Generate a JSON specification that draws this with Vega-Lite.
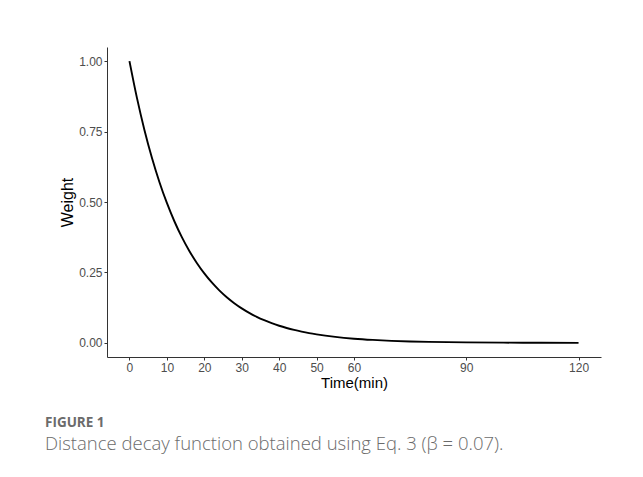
{
  "$schema": "https://vega.github.io/schema/vega-lite/v6.json",
  "width": 494,
  "height": 310,
  "autosize": {"type": "none"},
  "padding": {"left": 107, "top": 47, "right": 42, "bottom": 120},
  "background": "white",
  "title": {
    "text": "FIGURE 1",
    "subtitle": "Distance decay function obtained using Eq. 3 (β = 0.07).",
    "orient": "bottom",
    "anchor": "start",
    "frame": "group",
    "dx": -62,
    "offset": 26,
    "font": "Open Sans",
    "fontSize": 13.5,
    "fontWeight": "bold",
    "color": "#6b6b6b",
    "subtitleFont": "Open Sans",
    "subtitleFontSize": 18.5,
    "subtitleFontWeight": 300,
    "subtitleColor": "#6b6b6b",
    "subtitlePadding": 5
  },
  "data": {
    "values": [
      {"time": 0, "weight": 1.0},
      {"time": 2, "weight": 0.8694},
      {"time": 4, "weight": 0.7558},
      {"time": 6, "weight": 0.657},
      {"time": 8, "weight": 0.5712},
      {"time": 10, "weight": 0.4966},
      {"time": 12, "weight": 0.4317},
      {"time": 14, "weight": 0.3753},
      {"time": 16, "weight": 0.3263},
      {"time": 18, "weight": 0.2837},
      {"time": 20, "weight": 0.2466},
      {"time": 22, "weight": 0.2144},
      {"time": 24, "weight": 0.1864},
      {"time": 26, "weight": 0.162},
      {"time": 28, "weight": 0.1409},
      {"time": 30, "weight": 0.1225},
      {"time": 32, "weight": 0.1065},
      {"time": 34, "weight": 0.0926},
      {"time": 36, "weight": 0.0805},
      {"time": 38, "weight": 0.0699},
      {"time": 40, "weight": 0.0608},
      {"time": 42, "weight": 0.0529},
      {"time": 44, "weight": 0.046},
      {"time": 46, "weight": 0.04},
      {"time": 48, "weight": 0.0347},
      {"time": 50, "weight": 0.0302},
      {"time": 55, "weight": 0.0213},
      {"time": 60, "weight": 0.015},
      {"time": 65, "weight": 0.0106},
      {"time": 70, "weight": 0.0074},
      {"time": 75, "weight": 0.0052},
      {"time": 80, "weight": 0.0037},
      {"time": 90, "weight": 0.0018},
      {"time": 100, "weight": 0.0009},
      {"time": 110, "weight": 0.0005},
      {"time": 120, "weight": 0.0002}
    ]
  },
  "mark": {"type": "line", "color": "black", "strokeWidth": 1.9, "interpolate": "monotone", "clip": false},
  "encoding": {
    "x": {
      "field": "time",
      "type": "quantitative",
      "scale": {"domain": [-6, 126], "nice": false, "zero": false},
      "axis": {
        "title": "Time(min)",
        "values": [0, 10, 20, 30, 40, 50, 60, 90, 120],
        "grid": false,
        "domainColor": "#333333",
        "domainWidth": 1,
        "tickColor": "#333333",
        "tickSize": 3,
        "labelFont": "Liberation Sans",
        "labelFontSize": 12,
        "labelColor": "#4d4d4d",
        "labelPadding": 2,
        "labelFlush": false,
        "titleFont": "Liberation Sans",
        "titleFontSize": 15,
        "titleFontWeight": "normal",
        "titleColor": "black",
        "titlePadding": 2
      }
    },
    "y": {
      "field": "weight",
      "type": "quantitative",
      "scale": {"domain": [-0.05, 1.05], "nice": false, "zero": false},
      "axis": {
        "title": "Weight",
        "values": [0, 0.25, 0.5, 0.75, 1],
        "format": ".2f",
        "grid": false,
        "domainColor": "#333333",
        "domainWidth": 1,
        "tickColor": "#333333",
        "tickSize": 3,
        "labelFont": "Liberation Sans",
        "labelFontSize": 12,
        "labelColor": "#4d4d4d",
        "labelPadding": 2,
        "labelFlush": false,
        "titleFont": "Liberation Sans",
        "titleFontSize": 16,
        "titleFontWeight": "normal",
        "titleColor": "black",
        "titlePadding": 3
      }
    }
  },
  "config": {"view": {"stroke": null}}
}
